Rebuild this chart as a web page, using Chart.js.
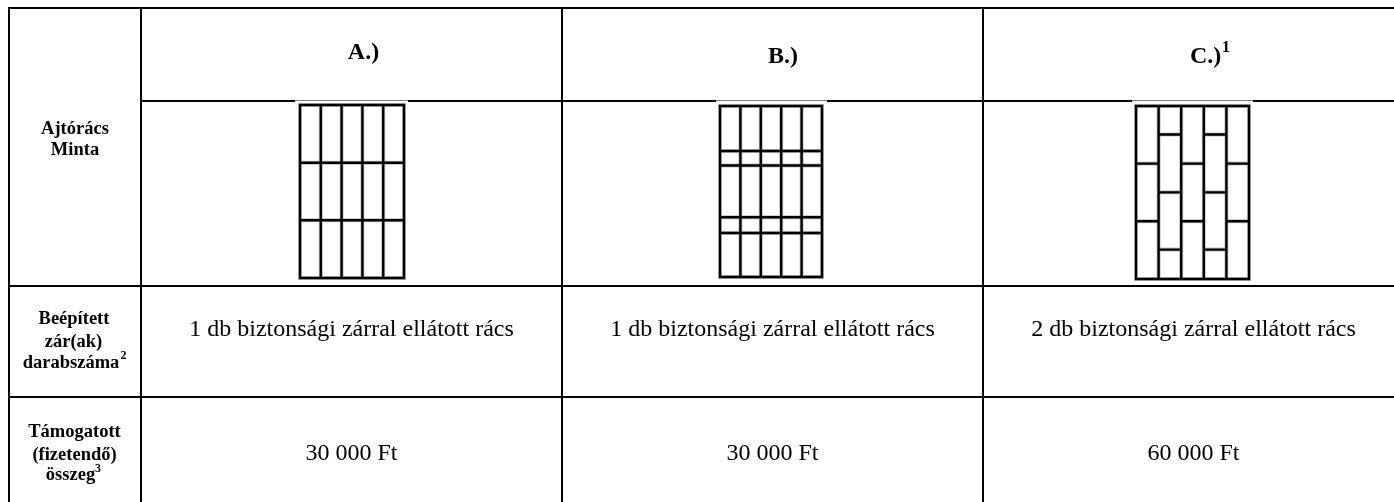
<!DOCTYPE html>
<html>
<head>
<meta charset="utf-8">
<script src="https://cdn.jsdelivr.net/npm/chart.js@4"></script>
<style>
html, body { margin: 0; padding: 0; background: #fff; overflow: hidden; }
#wrap { width: 1394px; height: 502px; }
</style>
</head>
<body>
<div id="wrap"><canvas id="tableChart"></canvas></div>
<script>
// table content
const columnNames = ['A.)', 'B.)', 'C.)'];
const rowNames = [['Ajtórács', 'Minta'], ['Beépített', 'zár(ak)', 'darabszáma'], ['Támogatott', '(fizetendő)', 'összeg']];
const lockCounts = ['1 db biztonsági zárral ellátott rács', '1 db biztonsági zárral ellátott rács', '2 db biztonsági zárral ellátott rács'];
const prices = ['30 000 Ft', '30 000 Ft', '60 000 Ft'];

// grille bars, in percent of the grille's width / height
const stiles = [0, 20, 40, 60, 80, 100];
const railsA = [33.4, 66.6];
const railsB = [26.3, 34.8, 65.1, 74.3];
const railsCOdd = [33.3, 66.6];
const railsCEven = [16.5, 49.9, 83];

// page layout
const colEdges = [9, 141, 562, 983];
const rowEdges = [8, 101, 286, 397];
const frames = [
    { left: 300, right: 404, top: 105, bottom: 278 },
    { left: 720, right: 822, top: 106, bottom: 277 },
    { left: 1136, right: 1249, top: 106, bottom: 279 }
];
const masks = [[295, 408], [716, 827], [1132, 1253]];
const bodyCenters = [351.5, 772.5, 1193.5];

function addSeg(pts, x1, y1, x2, y2) {
    pts.push({ x: x1, y: y1 }, { x: x2, y: y2 }, { x: null, y: null });
}

function tableLines() {
    const pts = [];
    addSeg(pts, colEdges[0], rowEdges[0], 1394, rowEdges[0]);
    addSeg(pts, colEdges[1], rowEdges[1], 1394, rowEdges[1]);
    addSeg(pts, colEdges[0], rowEdges[2], 1394, rowEdges[2]);
    addSeg(pts, colEdges[0], rowEdges[3], 1394, rowEdges[3]);
    colEdges.forEach(x => addSeg(pts, x, rowEdges[0], x, 502));
    return pts;
}

function maskLines() {
    const pts = [];
    masks.forEach(m => addSeg(pts, m[0], rowEdges[1] + 0.5, m[1], rowEdges[1] + 0.5));
    return pts;
}

function grilleLines(f, rails) {
    const w = f.right - f.left;
    const h = f.bottom - f.top;
    const pts = [];
    stiles.forEach(s => {
        const x = f.left + s * w / 100;
        addSeg(pts, x, f.top, x, f.bottom);
    });
    addSeg(pts, f.left, f.top, f.right, f.top);
    addSeg(pts, f.left, f.bottom, f.right, f.bottom);
    rails.forEach(r => {
        const y = f.top + r.at * h / 100;
        addSeg(pts, f.left + r.from * w / 100, y, f.left + (r.from + r.span) * w / 100, y);
    });
    return pts;
}

const fullRails = values => values.map(v => ({ at: v, from: 0, span: 100 }));

function brickRails() {
    const out = [];
    stiles.slice(0, -1).forEach((s, i) => {
        (i % 2 === 0 ? railsCOdd : railsCEven).forEach(v => out.push({ at: v, from: s, span: 20 }));
    });
    return out;
}

function lineSet(data, width, color, cap) {
    return { data, borderColor: color, borderWidth: width, borderCapStyle: cap || 'square', pointRadius: 0, showLine: true, spanGaps: false, tension: 0 };
}

const grilleData = [
    grilleLines(frames[0], fullRails(railsA)),
    grilleLines(frames[1], fullRails(railsB)),
    grilleLines(frames[2], brickRails())
];

const SERIF = '"Liberation Serif", serif';

const textPlugin = {
    id: 'tableText',
    afterDatasetsDraw(chart) {
        const { ctx, scales: { x, y } } = chart;
        const put = (str, px, py, font, align) => {
            ctx.font = font;
            ctx.textAlign = align || 'center';
            ctx.textBaseline = 'alphabetic';
            ctx.fillStyle = '#000';
            ctx.fillText(str, x.getPixelForValue(px), y.getPixelForValue(py));
        };
        ctx.save();
        const headFont = 'bold 24px ' + SERIF;
        put(columnNames[0], 363.5, 59, headFont);
        put(columnNames[1], 783, 63, headFont);
        put(columnNames[2], 1190, 63, headFont, 'left');
        put('1', 1222, 52, 'bold 16px ' + SERIF, 'left');

        const rowFont = 'bold 18.5px ' + SERIF;
        const rowX = [[75, 75], [74, 73.5, 71], [74.5, 74.5, 70.5]];
        const rowY = [[134, 155], [324, 347, 368], [437, 460, 480]];
        rowNames.forEach((lines, r) => lines.forEach((line, l) => put(line, rowX[r][l], rowY[r][l], rowFont)));
        put('2', 120.5, 359, 'bold 12px ' + SERIF, 'left');
        put('3', 95, 472, 'bold 12px ' + SERIF, 'left');

        const bodyFont = '24px ' + SERIF;
        lockCounts.forEach((t, i) => put(t, bodyCenters[i], 336, bodyFont));
        prices.forEach((t, i) => put(t, bodyCenters[i], 460, bodyFont));
        ctx.restore();
    }
};

// chart.js paints the first dataset last, so the top-most layers come first
new Chart(document.getElementById('tableChart'), {
    type: 'scatter',
    data: {
        datasets: [
            lineSet(grilleData[0], 2.4, '#000'),
            lineSet(grilleData[1], 2.4, '#000'),
            lineSet(grilleData[2], 2.4, '#000'),
            lineSet(grilleData[0], 4, '#c0c0c0'),
            lineSet(grilleData[1], 4, '#c0c0c0'),
            lineSet(grilleData[2], 4, '#c0c0c0'),
            lineSet(maskLines(), 2, '#fff', 'butt'),
            lineSet(tableLines(), 2, '#000')
        ]
    },
    options: {
        animation: false,
        responsive: true,
        maintainAspectRatio: false,
        layout: { padding: 0 },
        plugins: { legend: { display: false }, tooltip: { enabled: false } },
        scales: {
            x: { type: 'linear', min: 0, max: 1394, display: false },
            y: { type: 'linear', min: 0, max: 502, reverse: true, display: false }
        }
    },
    plugins: [textPlugin]
});
</script>
</body>
</html>
